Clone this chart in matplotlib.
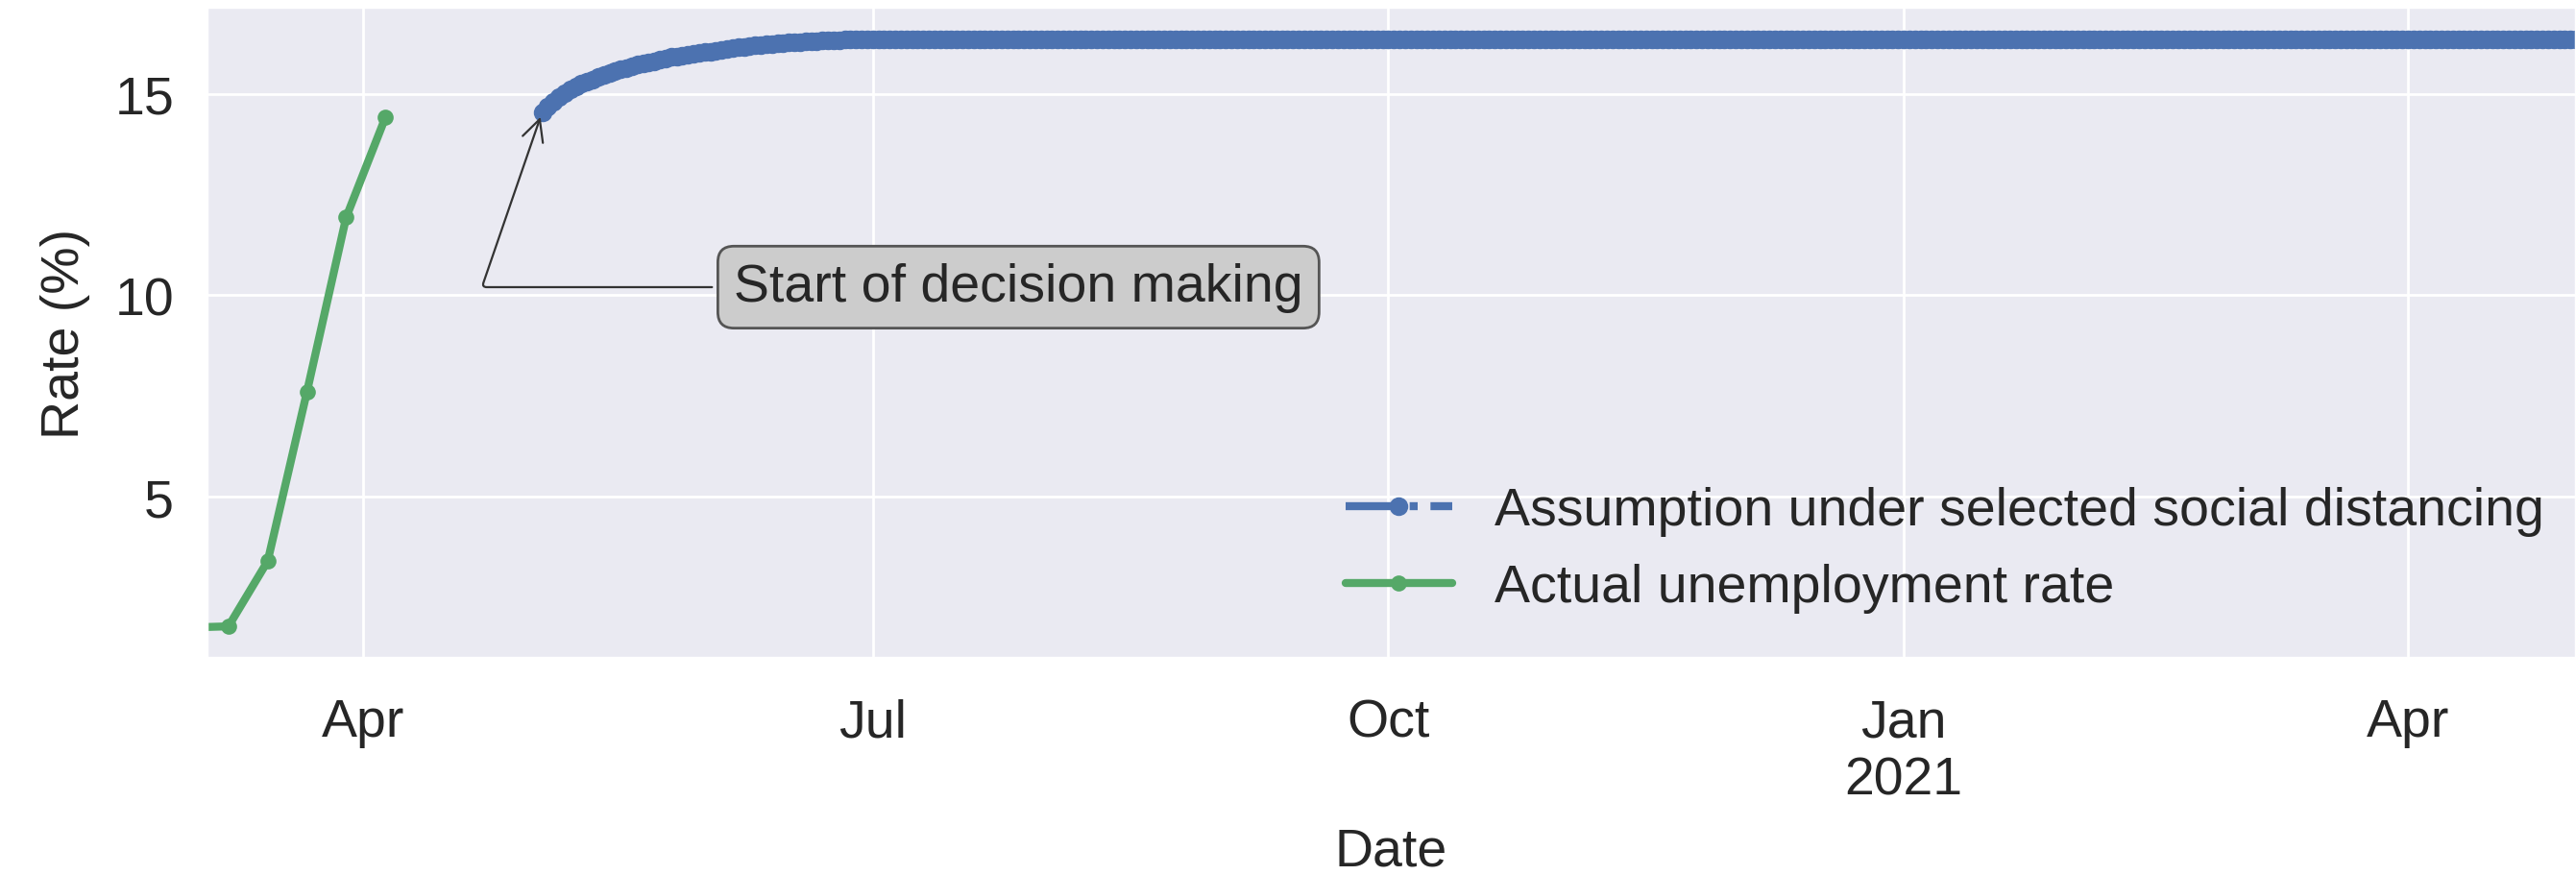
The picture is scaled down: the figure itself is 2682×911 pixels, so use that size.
import matplotlib
matplotlib.use("Agg")
import matplotlib.pyplot as plt
import matplotlib.dates as mdates
import seaborn as sns
import pandas as pd

sns.set_theme(style="darkgrid")
plt.rcParams['font.family'] = ['Liberation Sans', 'DejaVu Sans']

# ---- data ----
actual_dates = ["2020-03-01", "2020-03-08", "2020-03-15", "2020-03-22", "2020-03-29", "2020-04-05"]
actual_rate = [1.75, 1.78, 3.40, 7.60, 11.93, 14.41]

assumption_start = "2020-05-03"
assumption_rise = [14.55, 14.68, 14.80, 14.91, 15.02, 15.12, 15.19, 15.25, 15.31, 15.36,
                   15.41, 15.46, 15.51, 15.56, 15.60, 15.64, 15.68, 15.72, 15.75, 15.78,
                   15.81, 15.84, 15.88, 15.91, 15.93, 15.95, 15.97, 15.99, 16.01, 16.03,
                   16.05, 16.07, 16.09, 16.11, 16.13, 16.15, 16.16, 16.18, 16.20, 16.21,
                   16.23, 16.24, 16.25, 16.26, 16.27, 16.28, 16.29, 16.30, 16.31, 16.31,
                   16.32, 16.32, 16.33, 16.33, 16.34, 16.34, 16.35, 16.35, 16.35, 16.36,
                   16.36]
assumption_plateau = 16.36
assumption_end = "2021-05-31"

xlim = ("2020-03-04", "2021-05-01")
ylim = (1.0, 17.15)
yticks = [5, 10, 15]
annotation_text = "Start of decision making"
annotation_text_pos = ("2020-07-27", 10.2)

# ---- build series ----
blue_dates = pd.date_range(assumption_start, assumption_end, freq="D")
blue_vals = assumption_rise + [assumption_plateau] * (len(blue_dates) - len(assumption_rise))
green_dates = pd.to_datetime(actual_dates)

fig = plt.figure(figsize=(13.41, 4.56), dpi=200)
ax = fig.add_axes([0.080, 0.248, 0.920, 0.7427])

blue = "#4C72B0"
green = "#55A868"
ax.plot(blue_dates, blue_vals, linestyle="-.", marker="o", color=blue, lw=3, ms=6,
        label="Assumption under selected social distancing")
ax.plot(green_dates, actual_rate, linestyle="-", marker="o", color=green, lw=3, ms=5,
        label="Actual unemployment rate")

ax.set_xlim(pd.Timestamp(xlim[0]), pd.Timestamp(xlim[1]))
ax.set_ylim(*ylim)
ax.set_yticks(yticks)

ax.xaxis.set_major_locator(mdates.MonthLocator(bymonth=[1, 4, 7, 10]))
def fmt(x, pos=None):
    d = mdates.num2date(x)
    return d.strftime("%b\n%Y") if d.month == 1 else d.strftime("%b")
ax.xaxis.set_major_formatter(plt.FuncFormatter(fmt))
ax.xaxis.set_minor_locator(mdates.MonthLocator())
ax.grid(False, which="minor")

fs = 20
text_color = "#262626"
ax.tick_params(axis="both", labelsize=fs, length=0, labelcolor=text_color)
ax.tick_params(axis="x", pad=15)
ax.tick_params(axis="y", pad=12)
ax.set_xlabel("Date", fontsize=fs, labelpad=8, color=text_color)
ax.set_ylabel("Rate (%)", fontsize=fs, labelpad=9, color=text_color)

ax.annotate(annotation_text,
            xy=(pd.Timestamp(assumption_start), assumption_rise[0]),
            xytext=(pd.Timestamp(annotation_text_pos[0]), annotation_text_pos[1]),
            ha="center", va="center", fontsize=fs, color=text_color,
            bbox=dict(boxstyle="round,pad=0.3", fc="#cccccc", ec="#555555", lw=1),
            arrowprops=dict(arrowstyle="->", color="#333333", lw=0.8,
                            connectionstyle="angle,angleA=0,angleB=71,rad=5"))

leg = ax.legend(loc="lower right", bbox_to_anchor=(1.007, -0.005), fontsize=fs, frameon=False,
                handlelength=2.0)
for t in leg.get_texts():
    t.set_color(text_color)

fig.savefig("out.png", dpi=200)
